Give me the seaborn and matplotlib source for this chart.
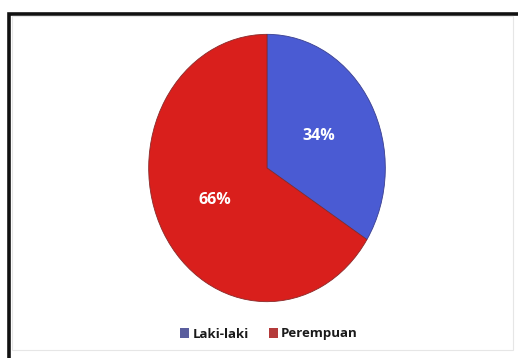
import matplotlib
matplotlib.use("Agg")
import matplotlib.pyplot as plt
import seaborn as sns
from matplotlib.patches import Rectangle, Patch

# Komposisi responden menurut jenis kelamin
categories = ["Laki-laki", "Perempuan"]
shares = [34, 66]
pct_labels = ["34%", "66%"]

sns.set_theme(style="white")
plt.rcParams["font.family"] = ["Open Sans", "DejaVu Sans"]

slice_colors = ["#4A5BD3", "#D91F1C"]
legend_colors = ["#5A5E9E", "#B43A3A"]

W, H = 518, 358
fig = plt.figure(figsize=(W / 100, H / 100), dpi=100)
fig.patch.set_facecolor("white")

# Outer black frame running off the right and bottom edges
fig.patches.append(Rectangle((8.5 / W, -0.05), 1.2, (H - 13.5) / H + 0.05,
                             transform=fig.transFigure, fill=False,
                             edgecolor="#111111", linewidth=2.6))
# Faint inner chart-area outline
fig.patches.append(Rectangle((12 / W, (H - 350) / H), (513 - 12) / W, (350 - 16) / H,
                             transform=fig.transFigure, fill=False,
                             edgecolor="#e6e6e6", linewidth=0.8))

cx, cy, rx, ry = 267, 168, 119.5, 135
ax = fig.add_axes([(cx - rx) / W, (H - cy - ry) / H, 2 * rx / W, 2 * ry / H])
wedges, _, autotexts = ax.pie(
    shares, colors=slice_colors, startangle=90, counterclock=False,
    autopct=lambda p: f"{p:.0f}%", pctdistance=0.5, radius=1,
    wedgeprops=dict(edgecolor="#8a2a2a", linewidth=0.6),
    textprops=dict(color="white", fontsize=11.5, fontweight="bold"),
)
wedges[0].set_edgecolor("#3a3f8f")
for t, lab in zip(autotexts, pct_labels):
    t.set_text(lab)
ax.set_aspect("auto")
ax.set_xlim(-1.01, 1.01)
ax.set_ylim(-1.01, 1.01)
ax.axis("off")

handles = [Patch(facecolor=c, edgecolor="none") for c in legend_colors]
leg = fig.legend(handles, categories, loc="center", bbox_to_anchor=(269 / W, (H - 334) / H),
                 ncol=2, frameon=False, handlelength=0.7, handleheight=0.7,
                 handletextpad=0.25, columnspacing=1.5,
                 prop=dict(family=["Open Sans", "DejaVu Sans"], weight="bold", size=9.5))
for t in leg.get_texts():
    t.set_color("#1a1a1a")

fig.savefig("out.png", dpi=100, facecolor="white")
